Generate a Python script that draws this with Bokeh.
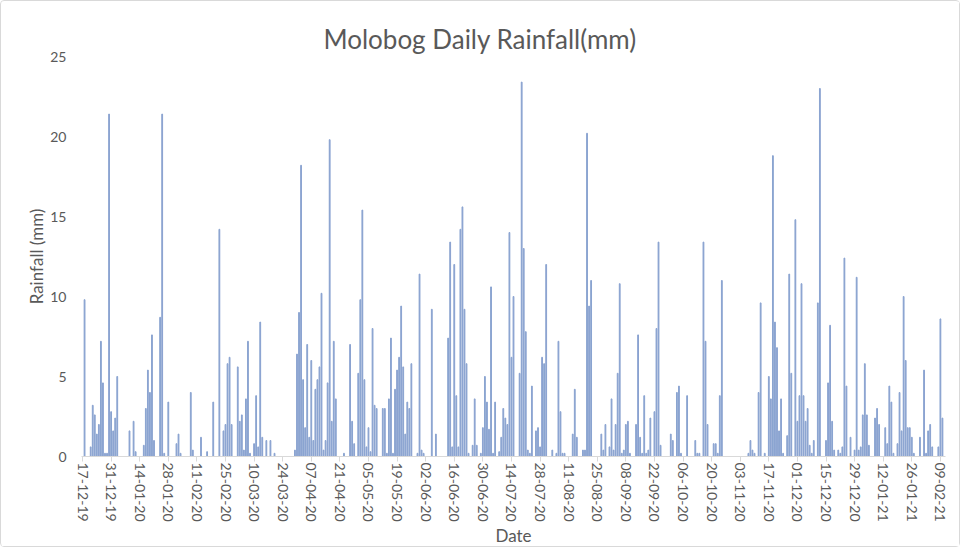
import pandas as pd
from bokeh.embed import file_html
from bokeh.models import FixedTicker, Range1d
from bokeh.plotting import figure
from bokeh.resources import INLINE

# daily rainfall (mm) from 17-12-2019, one row per fortnight
start_date = "2019-12-17"
rain_mm = [
    0, 9.8, 0, 0, 0.6, 3.2, 2.6, 1.4, 2.0, 7.2, 4.6, 0.2, 0.2, 21.4,
    2.8, 1.6, 2.4, 5.0, 0, 0, 0, 0, 0, 1.6, 0, 2.2, 0.3, 0,
    0, 0, 0.7, 3.0, 5.4, 4.0, 7.6, 1.0, 0, 0, 8.7, 21.4, 0.2, 0,
    3.4, 0, 0, 0, 0.8, 1.4, 0.2, 0, 0, 0, 0, 4.0, 0.4, 0,
    0, 0, 1.2, 0, 0, 0.3, 0, 0, 3.4, 0, 0, 14.2, 0, 1.6,
    2.0, 5.8, 6.2, 2.0, 0, 0, 5.6, 2.2, 2.6, 0.4, 3.6, 7.2, 0.2, 0,
    0.8, 3.8, 0.6, 8.4, 1.2, 0, 1.0, 0, 1.0, 0, 0.2, 0, 0, 0,
    0, 0, 0, 0, 0, 0, 0.4, 6.4, 9.0, 18.2, 4.8, 1.8, 7.0, 1.2,
    6.0, 1.0, 4.2, 4.8, 5.6, 10.2, 0.4, 1.0, 4.6, 19.8, 2.2, 7.2, 3.6, 0,
    0, 0, 0.2, 0, 0, 7.0, 2.2, 0.8, 0, 5.2, 9.8, 15.4, 4.8, 0.6,
    1.8, 0.3, 8.0, 3.2, 3.0, 0, 0, 3.0, 3.0, 0.2, 3.6, 7.4, 0.2, 4.2,
    5.4, 6.2, 9.4, 5.6, 1.4, 3.4, 3.0, 5.8, 0, 0, 0.2, 11.4, 0.4, 0.2,
    0, 0, 0, 9.2, 0, 1.4, 0, 0, 0, 0, 0, 7.4, 13.4, 0.6,
    12.0, 3.8, 0.6, 14.2, 15.6, 9.2, 5.8, 0.2, 0, 0.7, 3.6, 0.7, 0, 0.2,
    1.8, 5.0, 3.4, 1.7, 10.6, 0.2, 3.4, 0, 0.3, 1.2, 3.0, 2.4, 2.0, 14.0,
    6.2, 10.0, 0, 0, 5.2, 23.4, 13.0, 7.8, 0.4, 0.2, 4.4, 0, 1.6, 1.8,
    0.6, 6.2, 5.8, 12.0, 0, 0, 0.4, 0, 0.2, 7.2, 2.8, 0.2, 0.2, 0,
    0, 0, 1.4, 4.2, 1.2, 0, 0, 0.4, 0.4, 20.2, 9.4, 11.0, 0, 0,
    0, 0, 1.4, 0.4, 2.0, 0, 0.6, 3.6, 0.4, 2.0, 5.2, 10.8, 0.2, 0.4,
    2.0, 2.2, 0.2, 0, 0, 2.0, 7.6, 1.2, 0.2, 3.8, 0.2, 0.4, 2.4, 0,
    2.8, 8.0, 13.4, 0.7, 0, 0, 0, 0, 1.4, 1.0, 0, 4.0, 4.4, 0.2,
    0, 0, 3.8, 0, 0, 0, 1.0, 0.2, 0.2, 0, 13.4, 7.2, 2.0, 0,
    0, 0.8, 0.8, 0.2, 3.8, 11.0, 0, 0, 0, 0, 0, 0, 0, 0,
    0, 0, 0, 0, 0.2, 1.0, 0.4, 0.2, 0, 4.0, 9.6, 0, 0.2, 0,
    5.0, 3.6, 18.8, 8.4, 6.8, 1.6, 3.6, 0.2, 0, 1.3, 11.4, 5.2, 0, 14.8,
    2.2, 3.8, 10.8, 3.8, 2.2, 3.0, 0.7, 0.2, 1.0, 0, 9.6, 23.0, 0, 0,
    1.0, 4.6, 8.2, 2.2, 0.4, 0, 0.4, 0.2, 0.6, 12.4, 4.4, 0, 1.2, 0,
    0.4, 11.2, 0.4, 0.6, 2.6, 5.8, 2.6, 0.7, 0, 0, 2.4, 3.0, 2.0, 0,
    0, 1.8, 0.8, 4.4, 3.4, 0.2, 0, 0.8, 4.0, 1.6, 10.0, 6.0, 1.8, 1.8,
    1.2, 0.2, 0, 0, 1.2, 0, 5.4, 0.2, 1.6, 2.0, 0.6, 0, 0, 0.6,
    8.6, 2.4, 0,
]
y_ticks = [0, 5, 10, 15, 20, 25]
label_every = 14

dates = pd.date_range(start_date, periods=len(rain_mm), freq="D")
day = list(range(len(rain_mm)))
tick_days = day[::label_every]

TEXT = "#595959"
FONT = "Lato"

p = figure(
    width=960,
    height=547,
    title="Molobog Daily Rainfall(mm)",
    x_range=Range1d(-0.5, len(rain_mm) - 0.5),
    y_range=Range1d(0, 25),
    min_border_left=80,
    min_border_right=16,
    min_border_top=55,
    min_border_bottom=89,
    output_backend="svg",
    toolbar_location=None,
)
# thin grey frame round the whole chart, as in the spreadsheet export
p.styles = {"border": "1px solid #D9D9D9", "border-radius": "4px"}
p.vbar(x=day, top=rain_mm, width=0.4, color="#8AA3D0")

# the title sits over the middle of the whole chart, left of the frame centre
p.title.align = "left"
p.title.offset = 242
p.title.standoff = 4
p.title.text_font = FONT
p.title.text_font_size = "26px"
p.title.text_font_style = "normal"
p.title.text_color = TEXT

p.xaxis.ticker = FixedTicker(ticks=tick_days)
p.xaxis.major_label_overrides = {d: dates[d].strftime("%d-%m-%y") for d in tick_days}
p.xaxis.major_label_orientation = "vertical"
p.xaxis.axis_line_color = "#D9D9D9"
p.xaxis.major_tick_line_color = "#D9D9D9"
p.xaxis.major_tick_out = 5
p.xaxis.major_tick_in = 0
p.xaxis.minor_tick_line_color = None
p.xaxis.major_label_standoff = 1
p.xaxis.axis_label = "Date"
p.xaxis.axis_label_standoff = 0

p.yaxis.ticker = FixedTicker(ticks=y_ticks)
p.yaxis.axis_line_color = None
p.yaxis.major_tick_line_color = None
p.yaxis.minor_tick_line_color = None
p.yaxis.major_tick_out = 0
p.yaxis.major_label_standoff = 15
p.yaxis.axis_label = "Rainfall (mm)"
p.yaxis.axis_label_standoff = 0

for ax in (p.xaxis, p.yaxis):
    ax.major_label_text_font = FONT
    ax.major_label_text_font_size = "14px"
    ax.major_label_text_color = TEXT
    ax.axis_label_text_font = FONT
    ax.axis_label_text_font_size = "17px"
    ax.axis_label_text_font_style = "normal"
    ax.axis_label_text_color = TEXT

p.xgrid.grid_line_color = None
p.ygrid.grid_line_color = None
p.outline_line_color = None

open("out.html", "w").write(file_html(p, INLINE))
